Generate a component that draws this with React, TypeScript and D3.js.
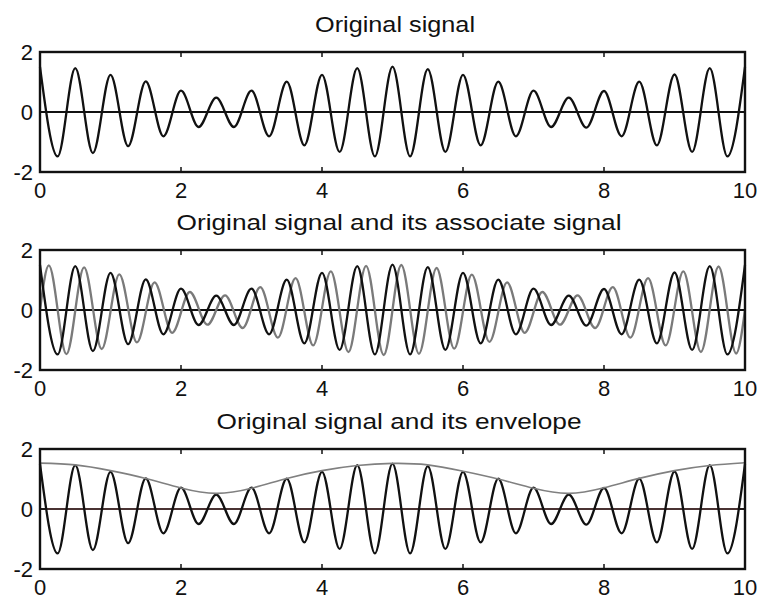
import React from 'react';
import * as d3 from 'd3';

// ---- data ----
const xTicks = [0, 2, 4, 6, 8, 10];
const yTicks = [-2, 0, 2];
const xDomain = [0, 10];
const yDomain = [-2, 2];

const titles = [
  'Original signal',
  'Original signal and its associate signal',
  'Original signal and its envelope',
];

// extrema (peaks / troughs) of the original signal
const signalTimes = [
  0, 0.25, 0.5, 0.75, 1, 1.25, 1.5, 1.75, 2, 2.25, 2.5, 2.75, 3, 3.25, 3.5, 3.75, 4, 4.25, 4.5, 4.75,
  5, 5.25, 5.5, 5.75, 6, 6.25, 6.5, 6.75, 7, 7.25, 7.5, 7.75, 8, 8.25, 8.5, 8.75, 9, 9.25, 9.5, 9.75, 10,
];
const signalValues = [
  1.5, -1.48, 1.46, -1.37, 1.24, -1.14, 1.02, -0.81, 0.71, -0.5, 0.48, -0.5, 0.71, -0.81, 1.01, -1.11,
  1.24, -1.33, 1.46, -1.48, 1.51, -1.48, 1.43, -1.33, 1.24, -1.11, 1.01, -0.81, 0.71, -0.5, 0.48, -0.52,
  0.7, -0.81, 1.01, -1.11, 1.25, -1.33, 1.46, -1.48, 1.5,
];

// extrema of the associate (quadrature) signal, plus its end points
const associateTimes = [
  0, 0.125, 0.375, 0.625, 0.875, 1.125, 1.375, 1.625, 1.875, 2.125, 2.375, 2.625, 2.875, 3.125, 3.375,
  3.625, 3.875, 4.125, 4.375, 4.625, 4.875, 5.125, 5.375, 5.625, 5.875, 6.125, 6.375, 6.625, 6.875,
  7.125, 7.375, 7.625, 7.875, 8.125, 8.375, 8.625, 8.875, 9.125, 9.375, 9.625, 9.875, 10,
];
const associateValues = [
  0, 1.49, -1.47, 1.42, -1.3, 1.19, -1.08, 0.92, -0.76, 0.6, -0.49, 0.49, -0.6, 0.76, -0.92, 1.06,
  -1.18, 1.29, -1.4, 1.47, -1.5, 1.5, -1.46, 1.4, -1.29, 1.18, -1.06, 0.92, -0.76, 0.6, -0.49, 0.49,
  -0.6, 0.76, -0.92, 1.06, -1.18, 1.29, -1.4, 1.45, -1.45, 0,
];

// envelope
const envelopeTimes = [0, 0.5, 1, 1.5, 2, 2.5, 3, 3.5, 4, 4.5, 5, 5.5, 6, 6.5, 7, 7.5, 8, 8.5, 9, 9.5, 10];
const envelopeValues = [
  1.53, 1.47, 1.28, 1.02, 0.7, 0.52, 0.69, 1.02, 1.28, 1.45, 1.52, 1.47, 1.26, 1.0, 0.69, 0.52, 0.71,
  1.02, 1.28, 1.45, 1.54,
];

// ---- layout ----
const W = 760;
const H = 599;
const left = 40;
const right = 745;
const plotTops = [52, 250, 449];
const plotH = 120;
const titleLengths = [160, 445, 365];
const titleCenters = [395, 399, 399];

const FONT = 'Arial, "Liberation Sans", Helvetica, sans-serif';

type Pt = [number, number];

function zip(t: number[], v: number[]): Pt[] {
  return t.map((d, i) => [d, v[i]] as Pt);
}

function Panel({ idx }: { idx: number }) {
  const top = plotTops[idx];
  const x = d3.scaleLinear().domain(xDomain).range([left, right]);
  const y = d3.scaleLinear().domain(yDomain).range([top + plotH, top]);

  const waveLine = d3
    .line<Pt>()
    .x((d) => x(d[0]))
    .y((d) => y(d[1]))
    .curve(d3.curveMonotoneX);
  const smoothLine = d3
    .line<Pt>()
    .x((d) => x(d[0]))
    .y((d) => y(d[1]))
    .curve(d3.curveNatural);

  const sig = waveLine(zip(signalTimes, signalValues)) || '';
  const assoc = waveLine(zip(associateTimes, associateValues)) || '';
  const env = smoothLine(zip(envelopeTimes, envelopeValues)) || '';
  const zeroColor = idx === 2 ? '#4a3333' : '#111';

  return (
    <g>
      <text
        x={titleCenters[idx]}
        y={top - 20}
        textAnchor="middle"
        fontFamily={FONT}
        fontSize={22}
        textLength={titleLengths[idx]}
        lengthAdjust="spacingAndGlyphs"
        fill="#111"
      >
        {titles[idx]}
      </text>

      {/* zero line */}
      <line x1={x(0)} x2={x(10)} y1={y(0)} y2={y(0)} stroke={zeroColor} strokeWidth={2} />

      {idx === 1 && <path d={assoc} fill="none" stroke="#7a7a7a" strokeWidth={2.3} />}
      <path d={sig} fill="none" stroke="#111" strokeWidth={2.3} />
      {idx === 2 && <path d={env} fill="none" stroke="#808080" strokeWidth={1.6} />}

      {/* ticks */}
      {xTicks.map((t) => (
        <g key={'xt' + t}>
          <line x1={x(t)} x2={x(t)} y1={top + plotH} y2={top + plotH - 5} stroke="#111" strokeWidth={1.5} />
          <line x1={x(t)} x2={x(t)} y1={top} y2={top + 5} stroke="#111" strokeWidth={1.5} />
          <text
            x={x(t)}
            y={top + plotH + 26}
            textAnchor="middle"
            fontFamily={FONT}
            fontSize={22}
            fill="#111"
          >
            {t}
          </text>
        </g>
      ))}
      {yTicks.map((v) => (
        <g key={'yt' + v}>
          <line x1={left} x2={left + 5} y1={y(v)} y2={y(v)} stroke="#111" strokeWidth={1.5} />
          <line x1={right} x2={right - 5} y1={y(v)} y2={y(v)} stroke="#111" strokeWidth={1.5} />
          <text
            x={33}
            y={y(v)}
            dy="0.36em"
            textAnchor="end"
            fontFamily={FONT}
            fontSize={22}
            fill="#111"
          >
            {v}
          </text>
        </g>
      ))}

      {/* frame */}
      <rect x={left} y={top} width={right - left} height={plotH} fill="none" stroke="#111" strokeWidth={2.4} />
    </g>
  );
}

export default function App() {
  return (
    <svg
      width={W}
      height={H}
      viewBox={`0 0 ${W} ${H}`}
      style={{ position: 'absolute', left: 0, top: 0, background: '#fff' }}
    >
      <rect x={0} y={0} width={W} height={H} fill="#fff" />
      {[0, 1, 2].map((i) => (
        <Panel key={i} idx={i} />
      ))}
    </svg>
  );
}
